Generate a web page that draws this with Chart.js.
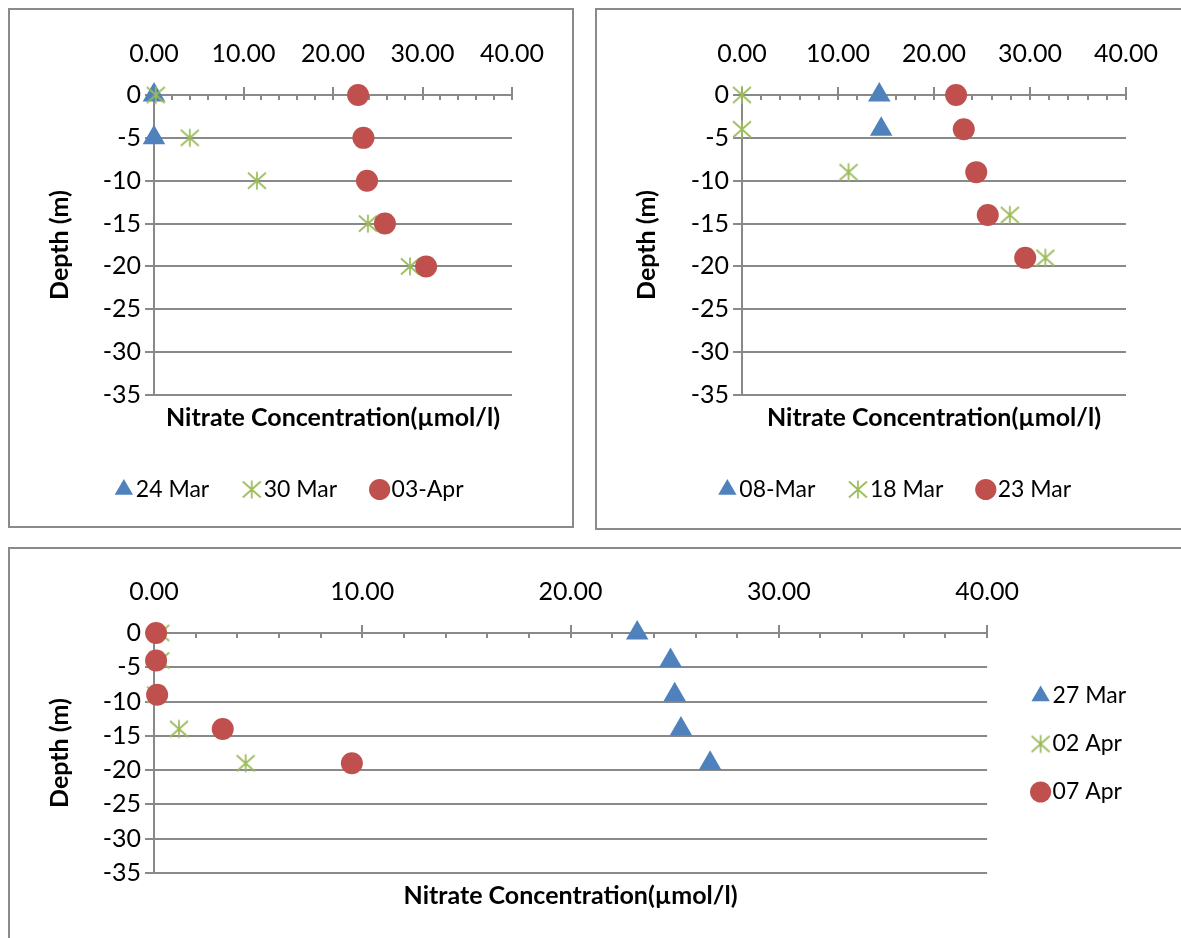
<!DOCTYPE html>
<html>
<head>
<meta charset="utf-8">
<script src="https://cdn.jsdelivr.net/npm/chart.js@4.4.0/dist/chart.umd.min.js"></script>
<style>
  body { margin: 0; background: #fff; width: 1181px; height: 938px; overflow: hidden; position: relative; }
  .panel { position: absolute; border: 2px solid #8a8a8a; background: #fff; }
  canvas { display: block; }
</style>
</head>
<body>
<div class="panel" style="left:8px;top:8px;width:562px;height:516px"><canvas id="c1" width="562" height="516"></canvas></div>
<div class="panel" style="left:595px;top:8px;width:610px;height:518px"><canvas id="c2" width="610" height="518"></canvas></div>
<div class="panel" style="left:8px;top:547px;width:1200px;height:420px"><canvas id="c3" width="1200" height="420"></canvas></div>
<script>
// top left panel
const tlDepthA = [0, -5];
const tl24Mar = [0, 0];
const tlDepthB = [0, -5, -10, -15, -20];
const tl30Mar = [0.2, 4.0, 11.5, 23.9, 28.6];
const tl03Apr = [22.8, 23.4, 23.8, 25.8, 30.4];
const tlNames = ['24 Mar', '30 Mar', '03-Apr'];

// top right panel
const trDepthA = [0, -4];
const tr08Mar = [14.3, 14.5];
const trDepthB = [0, -4, -9, -14, -19];
const tr18Mar = [0, 0, 11.1, 27.9, 31.6];
const tr23Mar = [22.3, 23.1, 24.4, 25.6, 29.5];
const trNames = ['08-Mar', '18 Mar', '23 Mar'];

// bottom panel
const bDepth = [0, -4, -9, -14, -19];
const b27Mar = [23.2, 24.8, 25.0, 25.3, 26.7];
const b02Apr = [0.3, 0.3, 0.1, 1.2, 4.4];
const b07Apr = [0.1, 0.1, 0.15, 3.3, 9.5];
const bNames = ['27 Mar', '02 Apr', '07 Apr'];

const xTicks = [0, 10, 20, 30, 40];
const yTicks = [0, -5, -10, -15, -20, -25, -30, -35];

const FONT = 'Lato, "Open Sans", sans-serif';
const FS = 25;
const LFS = 23;
const gridColor = '#898989';
const blue = '#4F81BD', green = '#9BBB59', red = '#C0504D';

// excel style star: an X with a vertical bar
function starImage() {
  const c = document.createElement('canvas');
  c.width = 22; c.height = 21;
  const g = c.getContext('2d');
  g.strokeStyle = green;
  g.lineWidth = 1.7;
  g.beginPath();
  g.moveTo(2, 2.5); g.lineTo(20, 18.5);
  g.moveTo(20, 2.5); g.lineTo(2, 18.5);
  g.moveTo(11, 1.5); g.lineTo(11, 19.5);
  g.stroke();
  return c;
}
const star = starImage();

function pts(xs, ys) {
  return xs.map((v, i) => ({ x: v, y: ys[i] }));
}

// tick marks on the x axis (major cross the line, minor hang below)
const xTickMarks = {
  id: 'xTickMarks',
  beforeDatasetsDraw(chart) {
    const sx = chart.scales.x;
    const y0 = Math.round(chart.scales.y.getPixelForValue(0));
    const g = chart.ctx;
    g.save();
    g.strokeStyle = gridColor;
    g.lineWidth = 2;
    sx.ticks.forEach(t => {
      const px = Math.round(sx.getPixelForValue(t.value));
      const major = t.value % 10 === 0;
      g.beginPath();
      g.moveTo(px, y0 - (major ? 8 : 0));
      g.lineTo(px, y0 + 5);
      g.stroke();
    });
    g.restore();
  }
};

// yAxisWidth + padding.left keeps the plot edge fixed, titleShift places "Depth (m)"
function makeChart(id, sets, names, legendOpts, padding, yAxisWidth, titleShift, extraScales, titleGap) {
  const styles = [
    { pointStyle: 'triangle', backgroundColor: blue, borderColor: blue, pointRadius: 13, order: 2 },
    { pointStyle: star, backgroundColor: green, borderColor: green, pointRadius: 11, order: 1 },
    { pointStyle: 'circle', backgroundColor: red, borderColor: red, pointRadius: 11, order: 0 }
  ];
  const datasets = sets.map((d, i) => Object.assign({
    label: names[i],
    data: d,
    showLine: false,
    borderWidth: 0,
    clip: false
  }, styles[i]));

  const scales = {
    x: {
      position: 'top',
      min: 0, max: 40,
      afterBuildTicks: s => { s.ticks = []; for (let v = 0; v <= 40; v += 2) s.ticks.push({ value: v }); },
      afterFit: s => { s.height = 56; },
      ticks: {
        autoSkip: false,
        maxRotation: 0,
        padding: 26,
        color: '#000',
        font: { family: FONT, size: FS },
        callback: v => (xTicks.includes(v) ? v.toFixed(2) : '')
      },
      grid: { drawOnChartArea: false, drawTicks: false },
      border: { display: true, color: gridColor, width: 2 }
    },
    x2: {
      position: 'bottom',
      min: 0, max: 40,
      ticks: { display: false },
      grid: { display: false, drawTicks: false },
      border: { display: false },
      title: {
        display: true,
        text: 'Nitrate Concentration(µmol/l)',
        color: '#000',
        font: { family: FONT, size: FS, weight: 'bold' },
        padding: { top: 8, bottom: titleGap }
      }
    },
    y: {
      min: -35, max: 0,
      afterBuildTicks: s => { s.ticks = yTicks.map(v => ({ value: v })); },
      afterFit: s => { s.width = yAxisWidth; },
      ticks: {
        padding: 4,
        color: '#000',
        font: { family: FONT, size: FS }
      },
      grid: { color: gridColor, lineWidth: 2, tickLength: 9 },
      border: { display: true, color: gridColor, width: 2 },
      title: {
        display: true,
        text: 'Depth (m)',
        color: '#000',
        font: { family: FONT, size: FS, weight: 'bold' },
        padding: { top: titleShift, bottom: 0 }
      }
    }
  };
  Object.assign(scales, extraScales || {});

  return new Chart(document.getElementById(id), {
    type: 'scatter',
    data: { datasets: datasets },
    plugins: [xTickMarks],
    options: {
      responsive: false,
      animation: false,
      layout: { padding: padding },
      plugins: {
        tooltip: { enabled: false },
        legend: legendOpts
      },
      scales: scales
    }
  });
}

function legendLabels(pad) {
  return {
    usePointStyle: true,
    boxHeight: 15,
    boxWidth: 1,
    padding: pad,
    color: '#000',
    font: { family: FONT, size: LFS },
    sort: (a, b) => a.datasetIndex - b.datasetIndex
  };
}

const bottomLegend = { position: 'bottom', labels: legendLabels(42) };

makeChart('c1', [pts(tl24Mar, tlDepthA), pts(tl30Mar, tlDepthB), pts(tl03Apr, tlDepthB)],
  tlNames, bottomLegend, { left: 65, right: 60, top: 29, bottom: 15 }, 79, -30, null, 3);

makeChart('c2', [pts(tr08Mar, trDepthA), pts(tr18Mar, trDepthB), pts(tr23Mar, trDepthB)],
  trNames, bottomLegend, { left: 75, right: 81, top: 29, bottom: 17 }, 70, -40, null, 3);

makeChart('c3', [pts(b27Mar, bDepth), pts(b02Apr, bDepth), pts(b07Apr, bDepth)],
  bNames, { position: 'right', align: 'center', labels: legendLabels(25) },
  { left: 35, right: 74, top: 28, bottom: 58 }, 109, 0,
  {
    // empty spacer between plot and legend
    y2: {
      position: 'right',
      min: -35, max: 0,
      afterFit: s => { s.width = 28; },
      ticks: { display: false },
      grid: { display: false, drawTicks: false },
      border: { display: false }
    }
  }, 0);
</script>
</body>
</html>
